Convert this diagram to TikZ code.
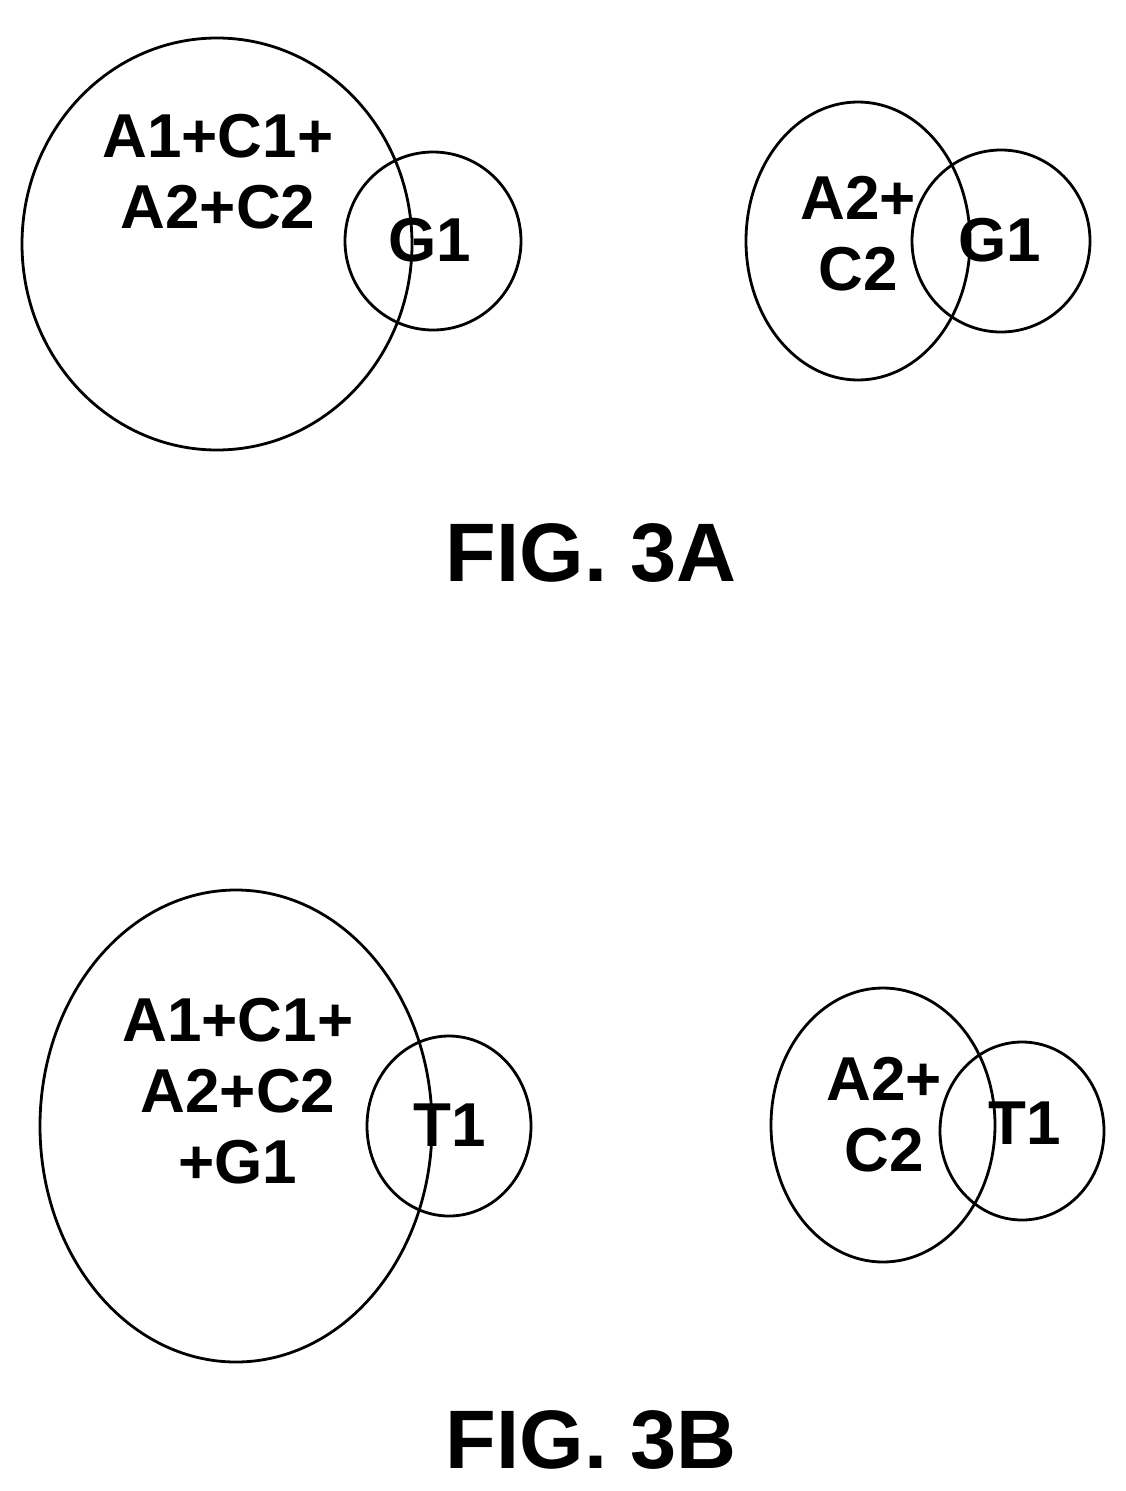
\documentclass[tikz,border=0pt]{standalone}
\usepackage{fontspec}
\setmainfont{Liberation Sans}
\begin{document}
\begin{tikzpicture}[x=1pt,y=-1pt,
  shp/.style={draw=black,line width=2.8pt},
  lbl/.style={font=\fontsize{62}{71}\selectfont\bfseries,align=center,inner sep=0pt},
  figcap/.style={font=\fontsize{83}{90}\selectfont\bfseries,inner sep=0pt}]
\useasboundingbox (0,0) rectangle (1125,1491);
% FIG 3A left
\draw[shp] (217,244) ellipse [x radius=195,y radius=206];
\draw[shp] (433,241) ellipse [x radius=88,y radius=89];
\node[lbl] (a1) at (218,172) {A1+C1+\\A2+C2};
\node[lbl] (g1) at (430,240) {G1};
% FIG 3A right
\draw[shp] (858,241) ellipse [x radius=112,y radius=139];
\draw[shp] (1001,241) ellipse [x radius=89,y radius=91];
\node[lbl] (a2) at (858,234) {A2+\\C2};
\node[lbl] (g2) at (1000,240) {G1};
\node[figcap] (f3a) at (591,553) {FIG. 3A};
% FIG 3B left
\draw[shp] (236,1126) ellipse [x radius=196,y radius=236];
\draw[shp] (449,1126) ellipse [x radius=82,y radius=90];
\node[lbl] (b1) at (238,1091) {A1+C1+\\A2+C2\\+G1};
\node[lbl] (t1) at (450,1125) {T1};
% FIG 3B right
\draw[shp] (883,1125) ellipse [x radius=112,y radius=137];
\draw[shp] (1022,1131) ellipse [x radius=82,y radius=89];
\node[lbl] (b2) at (884,1115) {A2+\\C2};
\node[lbl] (t2) at (1025,1123) {T1};
\node[figcap] (f3b) at (591,1440) {FIG. 3B};
\end{tikzpicture}
\end{document}
